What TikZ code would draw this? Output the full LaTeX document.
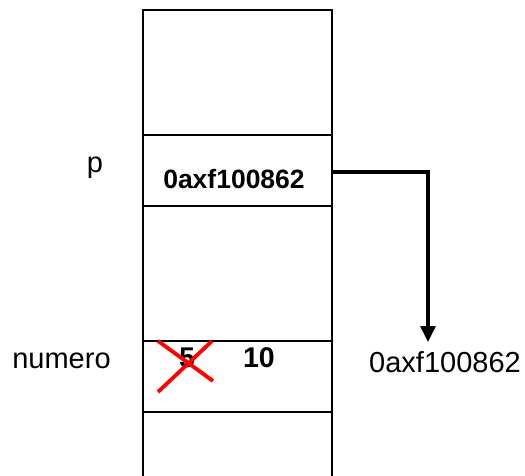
\documentclass[tikz,border=0pt]{standalone}
\usepackage{fontspec}
\setmainfont{Liberation Sans}
\usetikzlibrary{arrows.meta}
\tikzset{
  cellline/.style={line width=1.8pt, black},
  lbl/.style={font=\fontsize{29}{33}\selectfont, inner sep=0pt},
  val/.style={font=\fontsize{26.5}{30}\selectfont\bfseries, inner sep=0pt},
  ptr/.style={line width=3.3pt, -{Triangle[length=16pt,width=15pt]}},
  strike/.style={line width=3.8pt, red}
}
\begin{document}
\begin{tikzpicture}[x=1pt,y=-1pt]
\useasboundingbox (0,0) rectangle (525,476);
% column
\draw[cellline] (143,478) -- (143,10) -- (332,10) -- (332,478);
\draw[cellline] (143,135) -- (332,135);
\draw[cellline] (143,206) -- (332,206);
\draw[cellline] (143,341) -- (332,341);
\draw[cellline] (143,412) -- (332,412);
% texts
\node[lbl, anchor=base] (p) at (95,172) {p};
\node[val] (addr) at (234,179) {0axf100862};
\node[lbl] (numero) at (61.5,361) {numero};
\node[val, font=\fontsize{28.5}{32}\selectfont\bfseries] (five) at (187,358) {5};
\node[val, font=\fontsize{28.5}{32}\selectfont\bfseries] (ten) at (259,358) {10};
\node[lbl, anchor=west] (target) at (369,362) {0axf100862};
% pointer
\coordinate (ps) at (331,172);
\coordinate (pc) at (428,172);
\coordinate (pe) at (428,342);
\draw[ptr] (ps) -- (pc) -- (pe);
% red cross
\draw[strike] (158,341) -- (213,381);
\draw[strike] (158,392) -- (212,341);
\end{tikzpicture}
\end{document}
